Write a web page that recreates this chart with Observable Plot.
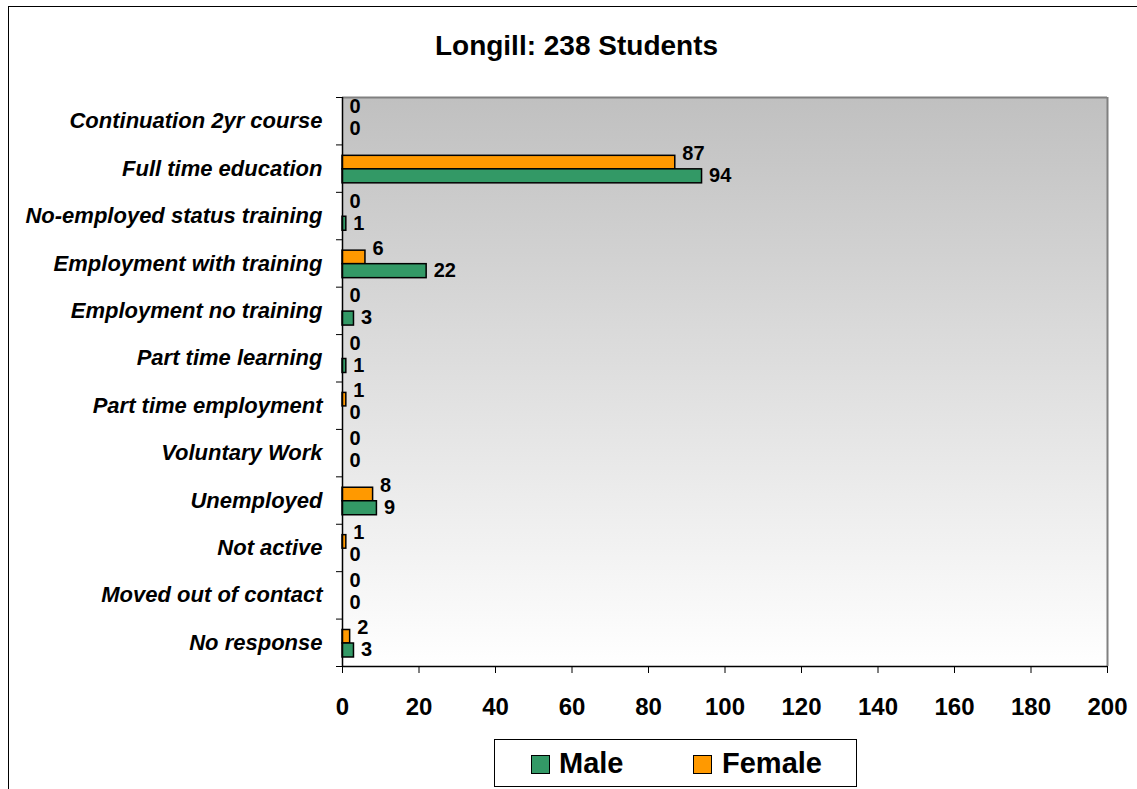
<!DOCTYPE html>
<html>
<head>
<meta charset="utf-8">
<script src="https://cdn.jsdelivr.net/npm/d3@7"></script>
<script src="https://cdn.jsdelivr.net/npm/@observablehq/plot@0.6"></script>
<style>
  html, body { margin: 0; padding: 0; background: #fff; overflow: hidden; }
  #wrap { position: relative; width: 1137px; height: 789px; font-family: "Liberation Sans", Arial, sans-serif; }
  #frame { position: absolute; left: 8px; top: 6px; width: 1300px; height: 900px; border-left: 1.5px solid #000; border-top: 1.5px solid #000; box-sizing: border-box; }
  #chart { position: absolute; left: 0; top: 0; }
  #title { position: absolute; left: 0; width: 1153px; top: 28px; text-align: center; font-weight: bold; font-size: 28px; line-height: 36px; }
  #legend { position: absolute; left: 494px; top: 739px; width: 363px; height: 48px; border: 1.5px solid #000; box-sizing: border-box; background: #fff; }
  .sw { position: absolute; top: 15px; width: 19px; height: 19px; border: 1.5px solid #000; box-sizing: border-box; }
  .lt { position: absolute; top: 5px; font-weight: bold; font-size: 29px; line-height: 36px; }
</style>
</head>
<body>
<div id="wrap">
  <div id="frame"></div>
  <div id="chart"></div>
  <div id="title">Longill: 238 Students</div>
  <div id="legend">
    <div class="sw" style="left:36px;background:#339966"></div>
    <div class="lt" style="left:64px">Male</div>
    <div class="sw" style="left:198px;background:#FF9900"></div>
    <div class="lt" style="left:227px">Female</div>
  </div>
</div>
<script>
const categories = [
  "Continuation 2yr course",
  "Full time education",
  "No-employed status training",
  "Employment with training",
  "Employment no training",
  "Part time learning",
  "Part time employment",
  "Voluntary Work",
  "Unemployed",
  "Not active",
  "Moved out of contact",
  "No response"
];
const male   = [0, 94, 1, 22, 3, 1, 0, 0, 9, 0, 0, 3];
const female = [0, 87, 0, 6, 0, 0, 1, 0, 8, 1, 0, 2];
const series = ["Male", "Female"];
const seriesColors = ["#339966", "#FF9900"];
const xTicks = [0, 20, 40, 60, 80, 100, 120, 140, 160, 180, 200];

const rows = categories.flatMap((c, i) => [
  {i, category: c, sex: "Female", value: female[i]},
  {i, category: c, sex: "Male", value: male[i]}
]);
const barTop = {Female: 0.23, Male: 0.515};
const barBot = {Female: 0.515, Male: 0.81};
const labelPos = {Female: 0.185, Male: 0.65};

const chart = Plot.plot({
  width: 1137,
  height: 789,
  marginTop: 97,
  marginBottom: 123,
  marginLeft: 342,
  marginRight: 30,
  style: {background: "transparent", fontFamily: "'Liberation Sans', Arial, sans-serif", color: "#000"},
  x: {domain: [0, 200], label: null},
  y: {domain: [0, categories.length], reverse: true, label: null},
  color: {domain: series, range: seriesColors},
  marks: [
    Plot.frame({fill: "url(#bgGrad)", stroke: null}),
    Plot.ruleY([0], {stroke: "#808080", strokeWidth: 2}),
    Plot.ruleX([200], {stroke: "#808080", strokeWidth: 2}),
    Plot.rect(rows.filter(d => d.value > 0), {
      x1: d => 0, x2: "value",
      y1: d => d.i + barTop[d.sex], y2: d => d.i + barBot[d.sex],
      fill: "sex", stroke: "#000", strokeWidth: 1.5
    }),
    Plot.text(rows, {
      x: "value", y: d => d.i + labelPos[d.sex], text: d => String(d.value),
      textAnchor: "start", dx: 7, fontSize: 20, fontWeight: "bold", fill: "#000"
    }),
    Plot.text(categories, {
      x: d => 0, y: (d, i) => i + 0.5, text: d => d,
      textAnchor: "end", dx: -20, fontSize: 22, fontWeight: "bold", fontStyle: "italic", fill: "#000"
    }),
    Plot.axisY({ticks: d3.range(0, categories.length + 1), tickFormat: () => "", tickSize: 6, stroke: "#000", label: null}),
    Plot.axisX({ticks: xTicks, tickSize: 7, tickPadding: 24, fontSize: 24, fontWeight: "bold", stroke: "#000", fill: "#000", label: null}),
    Plot.ruleX([0], {stroke: "#000", strokeWidth: 1.5}),
    Plot.ruleY([categories.length], {stroke: "#000", strokeWidth: 1.5})
  ]
});

const defs = d3.select(chart).insert("defs", ":first-child");
const grad = defs.append("linearGradient").attr("id", "bgGrad")
  .attr("x1", 0).attr("y1", 0).attr("x2", 0).attr("y2", 1);
grad.append("stop").attr("offset", "0%").attr("stop-color", "#C0C0C0");
grad.append("stop").attr("offset", "100%").attr("stop-color", "#FFFFFF");

document.getElementById("chart").appendChild(chart);
</script>
</body>
</html>
